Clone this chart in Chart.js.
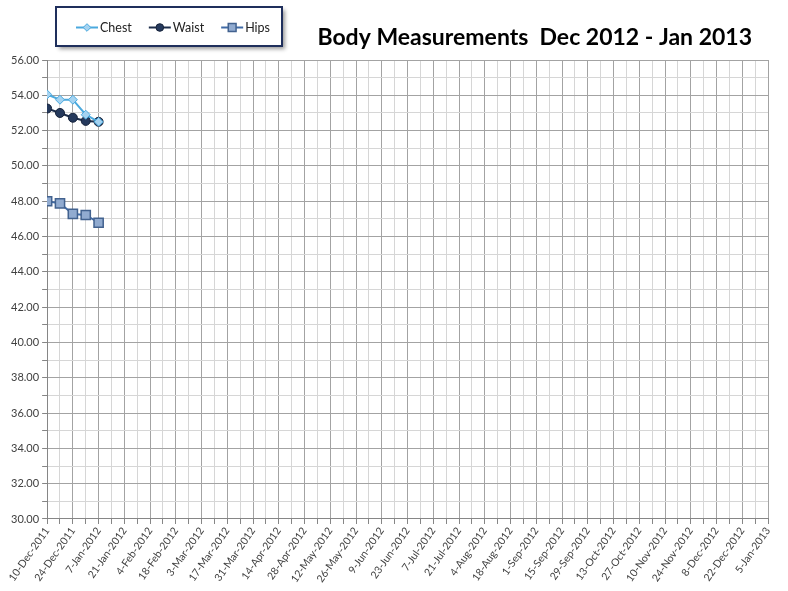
<!DOCTYPE html>
<html>
<head>
<meta charset="utf-8">
<script src="https://cdn.jsdelivr.net/npm/chart.js@4/dist/chart.umd.min.js"></script>
<style>
  body { margin: 0; background: #fff; }
  #wrap { width: 788px; height: 591px; }
</style>
</head>
<body>
<div id="wrap"><canvas id="chart" width="788" height="591"></canvas></div>
<script>
// weekly readings
const dates = ['10-Dec-2011', '17-Dec-2011', '24-Dec-2011', '31-Dec-2011', '7-Jan-2012'];
const chest = [54.05, 53.75, 53.75, 52.9, 52.5];
const waist = [53.25, 53.0, 52.73, 52.55, 52.5];
const hips = [48.0, 47.88, 47.28, 47.22, 46.78];

// x axis labels, one every two weeks
const tickLabels = ['10-Dec-2011', '24-Dec-2011', '7-Jan-2012', '21-Jan-2012', '4-Feb-2012', '18-Feb-2012',
    '3-Mar-2012', '17-Mar-2012', '31-Mar-2012', '14-Apr-2012', '28-Apr-2012', '12-May-2012', '26-May-2012',
    '9-Jun-2012', '23-Jun-2012', '7-Jul-2012', '21-Jul-2012', '4-Aug-2012', '18-Aug-2012', '1-Sep-2012',
    '15-Sep-2012', '29-Sep-2012', '13-Oct-2012', '27-Oct-2012', '10-Nov-2012', '24-Nov-2012', '8-Dec-2012',
    '22-Dec-2012', '5-Jan-2013'];
const yMin = 30, yMax = 56;
const chartTitle = 'Body Measurements  Dec 2012 - Jan 2013';

const months = { Jan: 0, Feb: 1, Mar: 2, Apr: 3, May: 4, Jun: 5, Jul: 6, Aug: 7, Sep: 8, Oct: 9, Nov: 10, Dec: 11 };
function toDay(s) {
    const p = s.split('-');
    return Date.UTC(+p[2], months[p[1]], +p[0]) / 86400000;
}
const day0 = toDay(tickLabels[0]);
const dayOf = s => Math.round(toDay(s) - day0);
const xMax = dayOf(tickLabels[tickLabels.length - 1]);

function points(values) {
    return values.map((v, i) => ({ x: dayOf(dates[i]), y: v }));
}

const FONT = 'Lato, "Open Sans", sans-serif';

// boxed legend + title drawn on the top band
const topBand = {
    id: 'topBand',
    afterDraw(chart) {
        const ctx = chart.ctx;
        ctx.save();
        // legend box
        const bx = 56, by = 7, bw = 226, bh = 39;
        ctx.shadowColor = 'rgba(0,0,0,0.4)';
        ctx.shadowBlur = 4;
        ctx.shadowOffsetX = 3;
        ctx.shadowOffsetY = 3;
        ctx.fillStyle = '#fff';
        ctx.fillRect(bx, by, bw, bh);
        ctx.shadowColor = 'transparent';
        ctx.strokeStyle = '#1f2f5c';
        ctx.lineWidth = 2;
        ctx.strokeRect(bx, by, bw, bh);

        ctx.font = '12.5px ' + FONT;
        ctx.textBaseline = 'middle';
        let x = 76;
        const y = by + bh / 2 + 1;
        chart.data.datasets.forEach(ds => {
            ctx.strokeStyle = ds.borderColor;
            ctx.lineWidth = ds.borderWidth;
            ctx.beginPath();
            ctx.moveTo(x, y);
            ctx.lineTo(x + 22, y);
            ctx.stroke();
            ctx.fillStyle = ds.pointBackgroundColor;
            ctx.strokeStyle = ds.pointBorderColor;
            ctx.lineWidth = ds.pointBorderWidth;
            Chart.helpers.drawPoint(ctx, {
                pointStyle: ds.pointStyle,
                radius: ds.pointRadius * 0.85,
                rotation: 0,
                borderWidth: ds.pointBorderWidth
            }, x + 11, y);
            ctx.fillStyle = '#222';
            ctx.textAlign = 'left';
            ctx.fillText(ds.label, x + 24, y);
            x += 24 + ctx.measureText(ds.label).width + 17;
        });

        // title
        ctx.font = 'bold 23px ' + FONT;
        ctx.fillStyle = '#000';
        ctx.textAlign = 'right';
        ctx.textBaseline = 'alphabetic';
        ctx.fillText(chartTitle, chart.chartArea.right - 16, 45);
        ctx.restore();
    }
};

new Chart(document.getElementById('chart'), {
    type: 'line',
    data: {
        datasets: [{
            label: 'Chest',
            data: points(chest),
            borderColor: '#4aa9de',
            borderWidth: 2,
            pointStyle: 'rectRot',
            pointRadius: 4.5,
            pointBackgroundColor: '#a5d3f1',
            pointBorderColor: '#4aa9de',
            pointBorderWidth: 1
        }, {
            label: 'Waist',
            data: points(waist),
            borderColor: '#1c2d4b',
            borderWidth: 2,
            pointStyle: 'circle',
            pointRadius: 4.5,
            pointBackgroundColor: '#25395c',
            pointBorderColor: '#15223a',
            pointBorderWidth: 1
        }, {
            label: 'Hips',
            data: points(hips),
            borderColor: '#3f6aa6',
            borderWidth: 2,
            pointStyle: 'rect',
            pointRadius: 6.5,
            pointBackgroundColor: '#91abd0',
            pointBorderColor: '#42628f',
            pointBorderWidth: 1.5
        }]
    },
    options: {
        responsive: false,
        animation: false,
        layout: { padding: { top: 60, right: 20, left: 8, bottom: 5 } },
        plugins: {
            legend: { display: false },
            title: { display: false },
            tooltip: { enabled: false }
        },
        scales: {
            x: {
                type: 'linear',
                min: 0,
                max: xMax,
                border: { color: '#868686' },
                grid: {
                    color: c => (Math.round(c.tick.value) % 14 === 0 ? '#a3a3a3' : '#d6d6d6'),
                    tickColor: '#868686',
                    tickLength: 5
                },
                ticks: {
                    stepSize: 7,
                    autoSkip: false,
                    minRotation: 55,
                    maxRotation: 55,
                    padding: 1,
                    color: '#404040',
                    font: { family: FONT, size: 10.5 },
                    callback: v => {
                        const d = Math.round(v);
                        return d % 14 === 0 ? tickLabels[d / 14] : '';
                    }
                }
            },
            y: {
                min: yMin,
                max: yMax,
                border: { color: '#868686' },
                grid: {
                    color: c => (Math.round(c.tick.value) % 2 === 0 ? '#a3a3a3' : '#d6d6d6'),
                    tickColor: '#868686',
                    tickLength: 5
                },
                ticks: {
                    stepSize: 1,
                    autoSkip: false,
                    color: '#404040',
                    font: { family: FONT, size: 11 },
                    callback: v => (Math.round(v) % 2 === 0 ? v.toFixed(2) : '')
                }
            }
        }
    },
    plugins: [topBand]
});
</script>
</body>
</html>
